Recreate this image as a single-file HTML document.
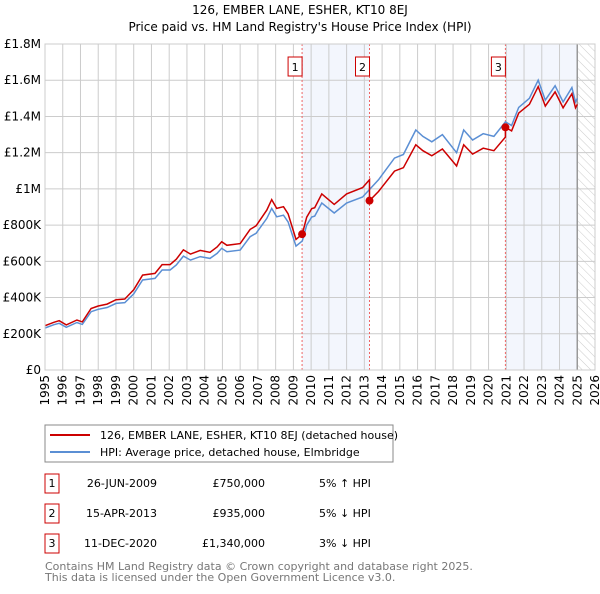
<!DOCTYPE html>
<html><head><meta charset="utf-8"><style>
body{margin:0;background:#fff;font-family:"DejaVu Sans","Liberation Sans",sans-serif;}
svg text{font-family:"DejaVu Sans","Liberation Sans",sans-serif;}
</style></head><body>
<svg id="c" width="600" height="590" xmlns="http://www.w3.org/2000/svg">
<defs><pattern id="hatch" width="6" height="6" patternUnits="userSpaceOnUse" patternTransform="rotate(-45)"><line x1="0" y1="0" x2="0" y2="6" stroke="#ccc" stroke-width="1"/></pattern></defs>
<text x="300" y="14" text-anchor="middle" font-size="12">126, EMBER LANE, ESHER, KT10 8EJ</text>
<text x="300" y="31" text-anchor="middle" font-size="12">Price paid vs. HM Land Registry's House Price Index (HPI)</text>
<g id="plot"></g>
<rect x="45" y="425" width="348" height="37" fill="#fff" stroke="#888"/>
<line x1="50" y1="435" x2="90" y2="435" stroke="#cc0000" stroke-width="2"/>
<text x="100" y="439" font-size="11">126, EMBER LANE, ESHER, KT10 8EJ (detached house)</text>
<line x1="50" y1="452" x2="90" y2="452" stroke="#5b8fd4" stroke-width="2"/>
<text x="100" y="456" font-size="11">HPI: Average price, detached house, Elmbridge</text>
<g id="tbl"></g>
<text x="45" y="570" font-size="11" fill="#777">Contains HM Land Registry data © Crown copyright and database right 2025.</text>
<text x="45" y="581" font-size="11" fill="#777">This data is licensed under the Open Government Licence v3.0.</text>
</svg>
<script>
const hpiYears=[1995,1995.5,1995.8,1996.2,1996.8,1997.1,1997.6,1998.0,1998.5,1999.0,1999.5,2000.0,2000.5,2001.2,2001.6,2002.05,2002.4,2002.8,2003.2,2003.75,2004.3,2004.7,2004.96,2005.25,2006.0,2006.56,2006.9,2007.5,2007.78,2008.06,2008.44,2008.7,2009.15,2009.5,2009.75,2010.03,2010.2,2010.6,2011.3,2012,2012.9,2013.8,2014.7,2015.2,2015.9,2016.3,2016.8,2017.4,2018.2,2018.6,2019.1,2019.7,2020.3,2020.95,2021.3,2021.7,2022.3,2022.8,2023.2,2023.75,2024.2,2024.7,2024.9,2025.0];
const hpiValues=[232000,250000,258000,236000,262000,252000,322000,335000,345000,368000,372000,420000,497000,506000,552000,552000,580000,629000,607000,626000,616000,644000,672000,653000,662000,736000,755000,837000,892000,846000,855000,818000,684000,712000,800000,845000,850000,922000,867000,922000,955000,1050000,1170000,1190000,1325000,1290000,1260000,1300000,1200000,1325000,1270000,1305000,1290000,1370000,1350000,1450000,1500000,1600000,1490000,1570000,1480000,1560000,1480000,1500000];
const saleYears=[2009.49,2013.29,2020.95];
const salePrices=[750000,935000,1340000];
const saleLabels=["1","2","3"];
const saleDates=["26-JUN-2009","15-APR-2013","11-DEC-2020"];
const salePriceText=["£750,000","£935,000","£1,340,000"];
const saleDiffText=["5% ↑ HPI","5% ↓ HPI","3% ↓ HPI"];
const yTicks=[0,200000,400000,600000,800000,1000000,1200000,1400000,1600000,1800000];
const yTickLabels=["£0","£200K","£400K","£600K","£800K","£1M","£1.2M","£1.4M","£1.6M","£1.8M"];
const xTicks=[1995,1996,1997,1998,1999,2000,2001,2002,2003,2004,2005,2006,2007,2008,2009,2010,2011,2012,2013,2014,2015,2016,2017,2018,2019,2020,2021,2022,2023,2024,2025,2026];

const X0=45,X1=595,Y0=370,Y1=44;
const xs=v=>X0+(v-1995)/(2026-1995)*(X1-X0);
const ys=v=>Y0-v/1800000*(Y0-Y1);
const NS="http://www.w3.org/2000/svg";
function mk(p,t,a){const e=document.createElementNS(NS,t);for(const k in a)e.setAttribute(k,a[k]);p.appendChild(e);return e;}
const g=document.getElementById('plot');
function hpiAt(y){for(let i=1;i<hpiYears.length;i++){if(y<=hpiYears[i]){const t=(y-hpiYears[i-1])/(hpiYears[i]-hpiYears[i-1]);return hpiValues[i-1]+t*(hpiValues[i]-hpiValues[i-1]);}}return hpiValues[hpiValues.length-1];}
let s1=mk(g,'rect',{x:xs(saleYears[0]),y:Y1,width:xs(saleYears[1])-xs(saleYears[0]),height:Y0-Y1,fill:'#eef2fc',opacity:0.7});


let s2=mk(g,'rect',{x:xs(saleYears[2]),y:Y1,width:xs(2025.0)-xs(saleYears[2]),height:Y0-Y1,fill:'#eef2fc',opacity:0.7});


let ht=mk(g,'rect',{x:xs(2025.0),y:Y1,width:X1-xs(2025.0),height:Y0-Y1,fill:'url(#hatch)'});


yTicks.forEach((v,i)=>{
 let l=mk(g,'line',{x1:X0,x2:X1,y1:ys(v),y2:ys(v),stroke:'#ccc'});
 
 
 let t=mk(g,'text',{x:X0-4,y:ys(v)+4,'text-anchor':'end','font-size':'12'});t.textContent=yTickLabels[i];
 
 
});
xTicks.forEach(v=>{
 let l=mk(g,'line',{x1:xs(v),x2:xs(v),y1:Y1,y2:Y0,stroke:'#ccc'});
 
 
 let t=mk(g,'text',{x:xs(v)+4,y:Y0+5,'text-anchor':'end','font-size':'12',transform:`rotate(-90 ${xs(v)+4} ${Y0+5})`});t.textContent=v;
 
 
});
let vl=mk(g,'line',{x1:xs(2025.0),x2:xs(2025.0),y1:Y1,y2:Y0,stroke:'#999','stroke-width':1.5});


saleYears.forEach((sy,i)=>{
 let l=mk(g,'line',{x1:xs(sy),x2:xs(sy),y1:Y1,y2:Y0,stroke:'#e66','stroke-dasharray':'2,2'});
 
 
 let b=mk(g,'rect',{x:xs(sy)-14,y:57,width:14,height:19,fill:'#fff',stroke:'#cc0000'});
 
 
 let t=mk(g,'text',{x:xs(sy)-7,y:71,'text-anchor':'middle','font-size':'11'});t.textContent=saleLabels[i];
 
 
});
let bp='',rp='';
const factor=y=>{let f=salePrices[0]/hpiAt(saleYears[0]);for(let i=0;i<saleYears.length;i++){if(y>=saleYears[i])f=salePrices[i]/hpiAt(saleYears[i]);}return f;};
hpiYears.forEach((y,i)=>{bp+=(i?'L':'M')+xs(y).toFixed(1)+','+ys(hpiValues[i]).toFixed(1);});
let pts=[];hpiYears.forEach((y,i)=>pts.push([y,hpiValues[i]*factor(y)]));
saleYears.forEach((sy,i)=>{pts.push([sy-0.001,hpiAt(sy)*factor(sy-0.01)]);pts.push([sy,salePrices[i]]);});
pts.sort((a,b)=>a[0]-b[0]);
pts.forEach((p,i)=>{rp+=(i?'L':'M')+xs(p[0]).toFixed(1)+','+ys(p[1]).toFixed(1);});
let bl=mk(g,'path',{d:bp,fill:'none',stroke:'#5b8fd4','stroke-width':1.5});


let rl=mk(g,'path',{d:rp,fill:'none',stroke:'#cc0000','stroke-width':1.5});


saleYears.forEach((sy,i)=>{
 let c=mk(g,'circle',{cx:xs(sy),cy:ys(salePrices[i]),r:4,fill:'#cc0000'});
 
 
});
let fr=mk(g,'rect',{x:X0,y:Y1,width:X1-X0,height:Y0-Y1,fill:'none',stroke:'#ccc'});


const tb=document.getElementById('tbl');
saleYears.forEach((sy,i)=>{
 const cy=483+i*30;
 let b=mk(tb,'rect',{x:45,y:cy-9,width:14,height:19,fill:'#fff',stroke:'#cc0000'});
 
 
 let t=mk(tb,'text',{x:52,y:cy+4,'text-anchor':'middle','font-size':'11'});t.textContent=saleLabels[i];
 
 
 let d=mk(tb,'text',{x:157,y:cy+4,'text-anchor':'end','font-size':'11'});d.textContent=saleDates[i];
 
 
 let p=mk(tb,'text',{x:265,y:cy+4,'text-anchor':'end','font-size':'11'});p.textContent=salePriceText[i];
 
 
 let h=mk(tb,'text',{x:319,y:cy+4,'font-size':'11'});h.textContent=saleDiffText[i];
 
 
});
</script>
</body></html>
